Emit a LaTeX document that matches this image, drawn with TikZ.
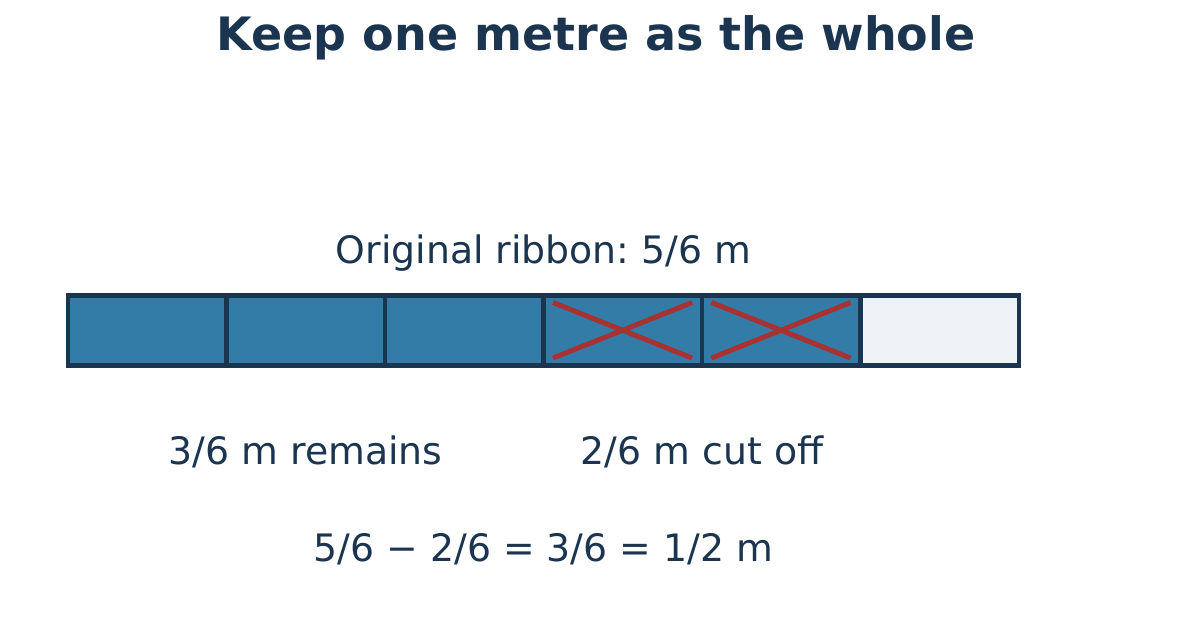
\documentclass[tikz,border=0pt]{standalone}
\usepackage{fontspec}
\setmainfont{DejaVu Sans}
\frenchspacing
\definecolor{navy}{HTML}{1B3550}
\definecolor{ribbon}{HTML}{337CA7}
\definecolor{empty}{HTML}{EEF3F8}
\definecolor{cut}{HTML}{A83232}
\tikzset{
  cell/.style={draw=navy, line width=4.5pt, minimum width=158.5pt, minimum height=70pt, inner sep=0pt, outer sep=0pt, anchor=north west},
  full/.style={cell, fill=ribbon},
  blank/.style={cell, fill=empty},
  cross/.style={draw=cut, line width=5pt},
  lbl/.style={text=navy, font=\fontsize{37.8}{44}\selectfont, anchor=base, inner sep=0pt},
  ttl/.style={text=navy, font=\fontsize{46}{54}\selectfont\bfseries, anchor=base, inner sep=0pt}
}
\begin{document}
\begin{tikzpicture}[x=1pt,y=-1pt]
\useasboundingbox (0,0) rectangle (1192,630);
\node[ttl] (title) at (596,50) {Keep one metre as the whole};
\node[lbl] (orig) at (543.5,263) {Original ribbon: 5/6 m};
\node[full] (c1) at (68,295.5) {};
\node[full] (c2) at (226.5,295.5) {};
\node[full] (c3) at (385,295.5) {};
\node[full] (c4) at (543.5,295.5) {};
\node[full] (c5) at (702,295.5) {};
\node[blank] (c6) at (860.5,295.5) {};
\foreach \c in {c4,c5}{
  \draw[cross] ([xshift=9.5pt,yshift=-7pt]\c.north west) -- ([xshift=-10pt,yshift=7.5pt]\c.south east);
  \draw[cross] ([xshift=9.5pt,yshift=7.5pt]\c.south west) -- ([xshift=-10pt,yshift=-7pt]\c.north east);
}
\node[lbl] (rem) at (305.75,464) {3/6 m remains};
\node[lbl] (off) at (702,464) {2/6 m cut off};
\node[lbl] (eq) at (543.5,561) {5/6 − 2/6 = 3/6 = 1/2 m};
\end{tikzpicture}
\end{document}
